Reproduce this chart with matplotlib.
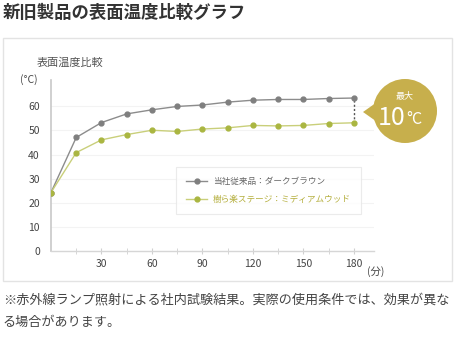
import numpy as np
import matplotlib
matplotlib.use("Agg")
import matplotlib.pyplot as plt
from matplotlib.patches import Rectangle, Circle, Polygon
from matplotlib.lines import Line2D

plt.rcParams['font.family'] = ['Noto Sans CJK JP', 'DejaVu Sans']

# データ（15分ごと）
minutes = [0, 15, 30, 45, 60, 75, 90, 105, 120, 135, 150, 165, 180]
old_temp = [24.2, 47.1, 53.3, 56.9, 58.6, 60.0, 60.6, 61.8, 62.6, 62.9, 62.9, 63.3, 63.5]
new_temp = [24.2, 40.8, 46.1, 48.3, 50.1, 49.6, 50.6, 51.1, 52.1, 51.9, 52.1, 52.9, 53.2]
old_label = "当社従来品：ダークブラウン"
new_label = "樹ら楽ステージ：ミディアムウッド"
x_ticks = [30, 60, 90, 120, 150, 180]
y_ticks = [0, 10, 20, 30, 40, 50, 60]

W, H = 458, 337
fig = plt.figure(figsize=(W / 100, H / 100), dpi=100)

# 背景（枠・タイトル・注記）
bg = fig.add_axes([0, 0, 1, 1], zorder=0)
bg.set_xlim(0, W)
bg.set_ylim(H, 0)
bg.axis('off')
bg.add_patch(Rectangle((3, 38), 449, 243, fill=False, ec='#e3e3e3', lw=1))
bg.text(3, 13, "新旧製品の表面温度比較グラフ", fontsize=12.5, fontweight='bold',
        color='#333333', va='center', ha='left')
bg.text(3, 300, "※赤外線ランプ照射による社内試験結果。実際の使用条件では、効果が異な",
        fontsize=9.45, color='#444444', va='center', ha='left')
bg.text(3, 322, "る場合があります。", fontsize=9.45, color='#444444', va='center', ha='left')
bg.text(37, 63, "表面温度比較", fontsize=8, color='#555555', va='center', ha='left')

# グラフ本体
x0, x1 = 51, 374
y0, y1 = 250.7, 80
ax = fig.add_axes([x0 / W, (H - y0) / H, (x1 - x0) / W, (y0 - y1) / H], zorder=1)
ax.set_facecolor('none')
ax.set_xlim(0, 192)
ax.set_ylim(0, 71)

for y in y_ticks[1:]:
    ax.axhline(y, color='#f3f3f3', lw=0.8, zorder=0)

ax.plot(minutes, old_temp, color='#8c8c8c', lw=1.0, marker='o', ms=3.5,
        mfc='#7f7f7f', mec='#7f7f7f', zorder=3)
ax.plot(minutes, new_temp, color='#c9cf7a', lw=1.0, marker='o', ms=3.5,
        mfc='#aab641', mec='#aab641', zorder=3)

# 差の点線
ax.vlines(minutes[-1], new_temp[-1], old_temp[-1], colors='#555555',
          linestyles=(0, (1.5, 1.5)), lw=1.0, zorder=2)

for s in ['top', 'right']:
    ax.spines[s].set_visible(False)
ax.spines['left'].set_color('#c8c8c8')
ax.spines['bottom'].set_color('#d6d6d6')
ax.spines['left'].set_linewidth(1.2)
ax.spines['bottom'].set_linewidth(1.0)

ax.set_xticks(x_ticks)
ax.set_xticks(minutes[1:], minor=True)
ax.set_yticks(y_ticks)
ax.tick_params(axis='x', which='both', direction='inout', length=4, color='#d0d0d0',
               labelsize=7.5, labelcolor='#444444', pad=4)
ax.tick_params(axis='y', length=0, labelsize=7.5, labelcolor='#444444', pad=8)
ax.text(-0.07, 1.0, "(°C)", transform=ax.transAxes, fontsize=7.5, color='#444444',
        ha='center', va='center')
ax.text(188, -8.5, "(分)", fontsize=7.5, color='#444444', ha='left', va='center',
        clip_on=False)

handles = [
    Line2D([], [], color='#8c8c8c', lw=1.0, marker='o', ms=3.5, mfc='#7f7f7f', mec='#7f7f7f'),
    Line2D([], [], color='#c9cf7a', lw=1.0, marker='o', ms=3.5, mfc='#aab641', mec='#aab641'),
]
leg = ax.legend(handles, [old_label, new_label], loc='upper left',
                bbox_to_anchor=((176 - x0) / (x1 - x0), (y0 - 167) / (y0 - y1)),
                borderaxespad=0, fontsize=6.2, frameon=True, fancybox=False,
                edgecolor='#e6e6e6', handlelength=2.4, borderpad=1.2,
                labelspacing=1.0, handletextpad=0.7)
leg.get_frame().set_linewidth(0.8)
leg.get_texts()[0].set_color('#666666')
leg.get_texts()[1].set_color('#b4ae3c')

# 吹き出し
fg = fig.add_axes([0, 0, 1, 1], zorder=2)
fg.set_facecolor('none')
fg.set_xlim(0, W)
fg.set_ylim(H, 0)
fg.axis('off')
gold = '#c7af4c'
fg.add_patch(Circle((405, 111), 32, color=gold, lw=0))
fg.add_patch(Polygon([(363, 112), (380, 100), (380, 124)], closed=True, color=gold, lw=0))
fg.text(405, 96, "最大", fontsize=6.5, color='white', ha='center', va='center')
fg.text(406, 118, "10", fontsize=18, color='white', ha='right', va='center')
fg.text(406, 120, "°C", fontsize=11.5, color='white', ha='left', va='center')

fig.savefig("out.png", dpi=100)
